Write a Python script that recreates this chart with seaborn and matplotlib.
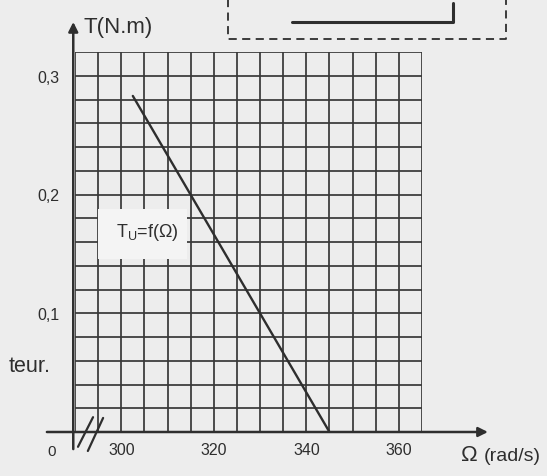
import matplotlib
matplotlib.use('Agg')
import matplotlib.pyplot as plt
import seaborn as sns
from matplotlib.ticker import MultipleLocator
from matplotlib.lines import Line2D
from matplotlib.patches import Rectangle

# ---- data ----
omega = [302.5, 345.0]          # rad/s
torque = [0.283, 0.0]           # N.m
x_ticks = [300, 320, 340, 360]
x_tick_labels = ['300', '320', '340', '360']
y_ticks = [0.1, 0.2, 0.3]
y_tick_labels = ['0,1', '0,2', '0,3']
curve_label = r'T$_{\mathrm{U}}$=f(Ω)'
x_symbol = 'Ω'
x_unit = '(rad/s)'
y_label = 'T(N.m)'
origin_label = '0'
side_text = 'teur.'

sns.set_style('white')
plt.rcParams['font.family'] = ['Liberation Sans', 'DejaVu Sans']
plt.rcParams['mathtext.fontset'] = 'custom'
plt.rcParams['mathtext.rm'] = 'Liberation Sans'

BG = '#ededed'
INK = '#2e2e2e'
GRID = '#383838'
W, H = 547, 477

def fx(px):
    return px / W

def fy(py):
    return 1 - py / H

fig = plt.figure(figsize=(W / 100, H / 100), dpi=100, facecolor=BG)
ax = fig.add_axes([fx(75), fy(433), 347 / W, 380 / H])
ax.set_facecolor(BG)

sns.lineplot(x=omega, y=torque, ax=ax, color=INK, lw=1.7, zorder=3)

ax.set_xlim(290, 365)
ax.set_ylim(0, 0.32)
ax.set_xticks(x_ticks, x_tick_labels)
ax.set_yticks(y_ticks, y_tick_labels)
ax.xaxis.set_minor_locator(MultipleLocator(5))
ax.yaxis.set_minor_locator(MultipleLocator(0.02))
ax.grid(which='both', color=GRID, lw=1.25)
ax.set_axisbelow(True)
for s in ax.spines.values():
    s.set_visible(False)
ax.tick_params(which='minor', length=0)
ax.tick_params(axis='x', which='major', direction='inout', length=9, width=1.6,
               colors=INK, labelsize=11.5, pad=3)
ax.tick_params(axis='y', which='major', direction='inout', length=18, width=1.8,
               colors=INK, labelsize=11.5, pad=2)
ax.set_xlabel('')
ax.set_ylabel('')

# label box
ax.add_patch(Rectangle((295.0, 0.1457), 19.2, 0.0421, facecolor='#f4f4f4',
                       edgecolor='none', zorder=2))
ax.text(305.6, 0.169, curve_label, ha='center', va='center', fontsize=13,
        color=INK, zorder=4)

# axes with arrows
arrow = dict(arrowstyle='-|>', color=INK, lw=1.8, mutation_scale=14,
             shrinkA=0, shrinkB=0)
ax.annotate('', xy=(-0.005, 1.079), xytext=(-0.005, -0.045), xycoords='axes fraction',
            arrowprops=arrow, annotation_clip=False)
ax.annotate('', xy=(1.19, 0.0), xytext=(-0.081, 0.0), xycoords='axes fraction',
            arrowprops=arrow, annotation_clip=False)

# axis break marks
for (x0, y0, x1, y1) in [(0.0086, -0.039, 0.052, 0.039), (0.037, -0.05, 0.081, 0.037)]:
    ax.add_line(Line2D([x0, x1], [y0, y1], transform=ax.transAxes, color=INK,
                       lw=1.6, clip_on=False))

# text labels
fig.text(fx(83), fy(27), y_label, ha='left', va='center', fontsize=16, color=INK)
fig.text(fx(461), fy(456), x_symbol, ha='left', va='center', fontsize=16, color=INK)
fig.text(fx(484), fy(457), x_unit, ha='left', va='center', fontsize=14, color=INK)
fig.text(fx(52), fy(452), origin_label, ha='center', va='center', fontsize=11, color=INK)
fig.text(fx(51), fy(366), side_text, ha='right', va='center', fontsize=15.5, color=INK)

# dashed frame at top right and its content
fig.add_artist(Line2D([fx(228), fx(228), fx(506), fx(506)],
                      [fy(-5), fy(40), fy(40), fy(-5)],
                      transform=fig.transFigure, color=INK, lw=1.3,
                      linestyle=(0, (4.5, 3))))
fig.add_artist(Line2D([fx(292), fx(453), fx(453)], [fy(23), fy(23), fy(4)],
                      transform=fig.transFigure, color=INK, lw=2.2))

fig.savefig('out.png', dpi=100, facecolor=BG)
